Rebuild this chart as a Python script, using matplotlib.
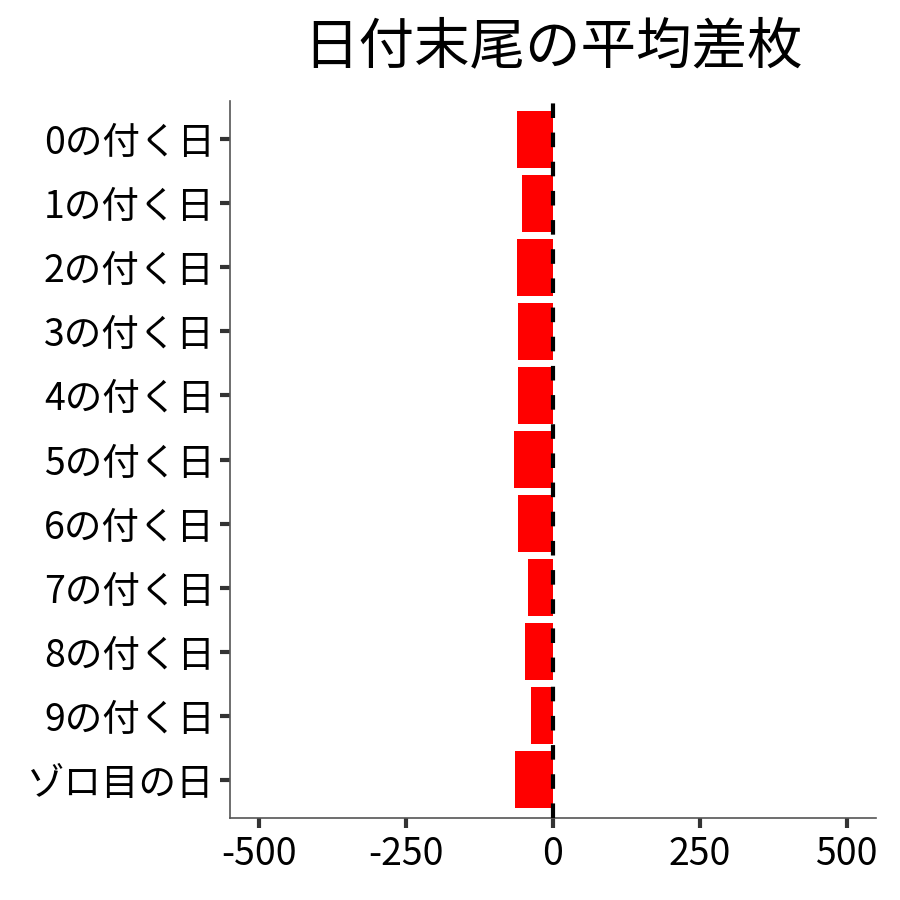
import matplotlib
matplotlib.use("Agg")
import matplotlib.pyplot as plt

plt.rcParams['font.family'] = ['Noto Sans CJK JP', 'DejaVu Sans']

categories = ["0の付く日", "1の付く日", "2の付く日", "3の付く日", "4の付く日",
              "5の付く日", "6の付く日", "7の付く日", "8の付く日", "9の付く日", "ゾロ目の日"]
values = [-62, -53, -62, -59, -60, -67, -60, -42, -47, -37, -65]
xticks = [-500, -250, 0, 250, 500]
xtick_labels = ["-500", "-250", "0", "250", "500"]
title = "日付末尾の平均差枚"

fig = plt.figure(figsize=(9, 9), dpi=100)
ax = fig.add_axes([230/900, 1-818/900, (876-230)/900, (818-101)/900])

n = len(categories)
ypos = list(range(n))
ax.barh(ypos, values, height=0.9, color="#FF0000", zorder=2)
ax.axvline(0, color="black", linestyle=(0, (3.5, 3.5)), linewidth=3, zorder=3)

ax.set_xlim(-550, 550)
ax.set_ylim(n - 0.4, -0.6)
ax.set_yticks(ypos)
ax.set_yticklabels(categories, fontsize=27)
ax.set_xticks(xticks)
ax.set_xticklabels(xtick_labels, fontsize=27)

for s in ["top", "right"]:
    ax.spines[s].set_visible(False)
for s in ["left", "bottom"]:
    ax.spines[s].set_color("#555555")
    ax.spines[s].set_linewidth(1.2)
ax.tick_params(axis="both", colors="#333333", length=7, width=3, labelcolor="black")
ax.tick_params(axis="y", pad=4)
ax.tick_params(axis="x", pad=5)

fig.text(553/900, 1-47/900, title, fontsize=40, ha="center", va="center")

fig.savefig("out.png", dpi=100, facecolor="white")
